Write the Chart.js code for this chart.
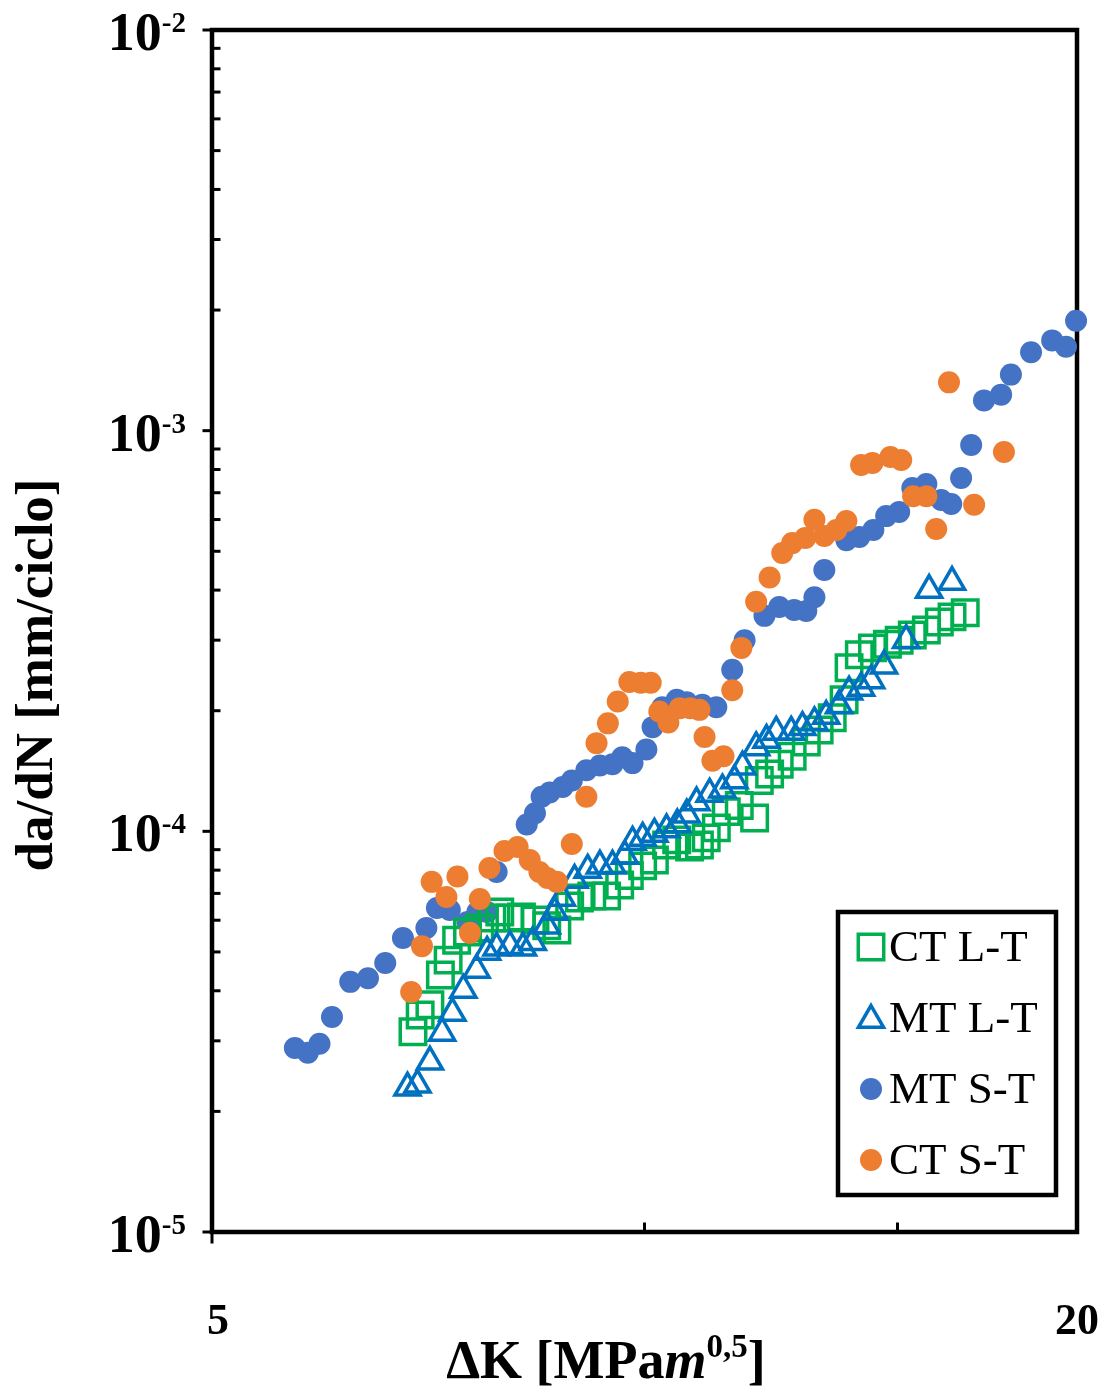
<!DOCTYPE html>
<html>
<head>
<meta charset="utf-8">
<script src="https://cdn.jsdelivr.net/npm/chart.js@4.4.1/dist/chart.umd.min.js"></script>
<style>
  html, body { margin: 0; padding: 0; background: #fff; }
  #wrap { width: 1104px; height: 1386px; position: relative; }
</style>
</head>
<body>
<div id="wrap"><canvas id="chart"></canvas></div>
<script>
// ΔK [MPa m^0.5] and da/dN [mm/ciclo] for each specimen / orientation
const ctLT_dK = [6.90, 6.98, 7.09, 7.21, 7.30, 7.40, 7.53, 7.68, 7.83, 7.93, 8.06, 8.21, 8.39, 8.55, 8.69, 8.87, 9.01, 9.19, 9.41, 9.61,
  9.76, 9.97, 10.16, 10.36, 10.53, 10.75, 10.92, 11.04, 11.22, 11.40, 11.64, 11.93, 12.02, 12.22, 12.41, 12.67, 12.96, 13.23, 13.51, 13.77,
  13.88, 14.11, 14.41, 14.76, 15.04, 15.36, 15.71, 16.04, 16.37, 16.72];
const ctLT_dadN = [3.16e-5, 3.48e-5, 3.69e-5, 4.38e-5, 4.77e-5, 5.35e-5, 5.61e-5, 5.74e-5, 6.08e-5, 6.29e-5, 6.08e-5, 6.11e-5, 6.01e-5, 5.81e-5, 5.67e-5,
  6.51e-5, 6.82e-5, 6.90e-5, 6.90e-5, 7.35e-5, 7.76e-5, 8.20e-5, 8.48e-5, 9.25e-5, 9.52e-5, 9.14e-5, 9.25e-5, 9.63e-5, 1.02e-4, 1.12e-4,
  1.16e-4, 1.08e-4, 1.34e-4, 1.39e-4, 1.47e-4, 1.54e-4, 1.67e-4, 1.79e-4, 1.92e-4, 2.13e-4, 2.56e-4, 2.76e-4, 2.87e-4, 2.93e-4, 3.00e-4,
  3.09e-4, 3.18e-4, 3.33e-4, 3.43e-4, 3.51e-4];

const mtLT_dK = [6.84, 6.95, 7.09, 7.23, 7.35, 7.48, 7.64, 7.77, 7.89, 8.06, 8.23, 8.36, 8.55, 8.66, 8.76, 8.94, 9.13, 9.31, 9.50, 9.69,
  9.81, 9.97, 10.16, 10.36, 10.54, 10.70, 10.87, 11.10, 11.33, 11.55, 11.70, 11.96, 12.16, 12.35, 12.65, 12.88, 13.13, 13.38, 13.66, 13.88,
  14.15, 14.38, 14.68, 15.21, 15.78, 16.37];
const mtLT_dadN = [2.29e-5, 2.33e-5, 2.66e-5, 3.14e-5, 3.52e-5, 4.02e-5, 4.51e-5, 5.00e-5, 5.12e-5, 5.17e-5, 5.12e-5, 5.29e-5, 5.81e-5, 6.29e-5, 6.82e-5,
  7.56e-5, 8.01e-5, 8.20e-5, 8.20e-5, 8.68e-5, 9.41e-5, 9.63e-5, 9.85e-5, 1.01e-4, 1.04e-4, 1.10e-4, 1.18e-4, 1.24e-4, 1.27e-4, 1.34e-4,
  1.45e-4, 1.62e-4, 1.69e-4, 1.77e-4, 1.77e-4, 1.82e-4, 1.87e-4, 1.94e-4, 2.06e-4, 2.23e-4, 2.28e-4, 2.38e-4, 2.59e-4, 3.00e-4, 4.00e-4,
  4.19e-4];

const mtST_dK = [5.71, 5.83, 5.94, 6.06, 6.24, 6.42, 6.60, 6.79, 7.05, 7.17, 7.32, 7.53, 7.65, 7.77, 7.89, 8.28, 8.39, 8.48, 8.59, 8.77,
  8.90, 9.11, 9.31, 9.50, 9.65, 9.81, 10.03, 10.13, 10.29, 10.53, 10.70, 10.97, 11.22, 11.51, 11.74, 12.12, 12.41, 12.71, 12.96, 13.13,
  13.34, 13.82, 14.11, 14.43, 14.73, 15.04, 15.36, 15.71, 16.09, 16.35, 16.61, 16.88, 17.23, 17.71, 17.99, 18.58, 19.22, 19.65, 19.97];
const mtST_dadN = [2.88e-5, 2.80e-5, 2.95e-5, 3.44e-5, 4.21e-5, 4.30e-5, 4.69e-5, 5.42e-5, 5.74e-5, 6.44e-5, 6.36e-5, 5.94e-5, 6.29e-5, 6.29e-5, 7.92e-5,
  1.04e-4, 1.11e-4, 1.22e-4, 1.25e-4, 1.29e-4, 1.34e-4, 1.42e-4, 1.46e-4, 1.47e-4, 1.53e-4, 1.48e-4, 1.60e-4, 1.82e-4, 2.04e-4, 2.13e-4,
  2.10e-4, 2.07e-4, 2.04e-4, 2.53e-4, 3.00e-4, 3.45e-4, 3.63e-4, 3.57e-4, 3.55e-4, 3.84e-4, 4.49e-4, 5.33e-4, 5.43e-4, 5.65e-4, 6.12e-4,
  6.27e-4, 7.19e-4, 7.36e-4, 6.71e-4, 6.56e-4, 7.62e-4, 9.21e-4, 1.19e-3, 1.23e-3, 1.38e-3, 1.57e-3, 1.68e-3, 1.62e-3, 1.88e-3];

const ctST_dK = [6.88, 7.00, 7.11, 7.28, 7.41, 7.56, 7.68, 7.80, 7.99, 8.16, 8.32, 8.45, 8.56, 8.69, 8.90, 9.11, 9.26, 9.43, 9.58, 9.76,
  9.94, 10.10, 10.24, 10.39, 10.58, 10.76, 10.92, 11.01, 11.15, 11.35, 11.51, 11.68, 11.96, 12.22, 12.47, 12.67, 12.94, 13.13, 13.34, 13.60,
  13.82, 14.15, 14.41, 14.83, 15.09, 15.38, 15.71, 15.96, 16.29, 16.96, 17.79];
const ctST_dadN = [3.97e-5, 5.17e-5, 7.48e-5, 6.86e-5, 7.71e-5, 5.58e-5, 6.78e-5, 8.10e-5, 8.93e-5, 9.14e-5, 8.48e-5, 7.92e-5, 7.65e-5, 7.48e-5, 9.30e-5,
  1.22e-4, 1.66e-4, 1.86e-4, 2.11e-4, 2.36e-4, 2.35e-4, 2.35e-4, 1.99e-4, 1.87e-4, 2.03e-4, 2.03e-4, 2.01e-4, 1.72e-4, 1.50e-4, 1.54e-4,
  2.25e-4, 2.87e-4, 3.74e-4, 4.30e-4, 4.95e-4, 5.24e-4, 5.40e-4, 5.99e-4, 5.46e-4, 5.65e-4, 5.95e-4, 8.21e-4, 8.31e-4, 8.60e-4, 8.45e-4,
  6.86e-4, 6.86e-4, 5.68e-4, 1.32e-3, 6.53e-4, 8.85e-4];

const seriesNames = ['CT L-T', 'MT L-T', 'MT S-T', 'CT S-T'];
const yDecades = [1e-5, 1e-4, 1e-3, 1e-2];
const xTickValues = [5, 20];
const xMinorValues = [10, 15];

const SERIF = '"Liberation Serif", "Times New Roman", serif';

function toPoints(xs, ys) {
  return xs.map((x, i) => ({ x: x, y: ys[i] }));
}

function markerSet(style, radius, fill, stroke, width, order) {
  return {
    pointStyle: style,
    pointRadius: radius,
    pointHoverRadius: radius,
    pointBackgroundColor: fill,
    pointBorderColor: stroke,
    pointBorderWidth: width,
    pointHoverBorderWidth: width,
    showLine: false,
    clip: false,
    order: order
  };
}

const datasets = [
  Object.assign({ label: seriesNames[0], data: toPoints(ctLT_dK, ctLT_dadN) }, markerSet('rect', 18, 'rgba(0,0,0,0)', '#00B050', 3.5, 2)),
  Object.assign({ label: seriesNames[1], data: toPoints(mtLT_dK, mtLT_dadN) }, markerSet('triangle', 14.5, 'rgba(0,0,0,0)', '#0070C0', 3.5, 1)),
  Object.assign({ label: seriesNames[2], data: toPoints(mtST_dK, mtST_dadN) }, markerSet('circle', 11, '#4472C4', '#4472C4', 0, 3)),
  Object.assign({ label: seriesNames[3], data: toPoints(ctST_dK, ctST_dadN) }, markerSet('circle', 11, '#ED7D31', '#ED7D31', 0, 0))
];

// frame, ticks (minor ones point inward) and the axis labels
const axisFrame = {
  id: 'axisFrame',
  beforeDatasetsDraw(chart) {
    const { ctx, chartArea: a, scales } = chart;
    const xs = scales.x, ys = scales.y;
    ctx.save();
    ctx.strokeStyle = '#000';
    ctx.lineCap = 'square';

    // y ticks
    ctx.lineWidth = 3;
    yDecades.forEach((d, i) => {
      const py = ys.getPixelForValue(d);
      ctx.beginPath();
      ctx.moveTo(a.left - 8, py);
      ctx.lineTo(a.left, py);
      ctx.stroke();
      if (i < yDecades.length - 1) {
        for (let m = 2; m <= 9; m++) {
          const my = ys.getPixelForValue(d * m);
          ctx.beginPath();
          ctx.moveTo(a.left, my);
          ctx.lineTo(a.left + 7, my);
          ctx.stroke();
        }
      }
    });
    // x ticks
    xMinorValues.forEach(v => {
      const px = xs.getPixelForValue(v);
      ctx.beginPath();
      ctx.moveTo(px, a.bottom);
      ctx.lineTo(px, a.bottom - 8);
      ctx.stroke();
    });
    ctx.beginPath();
    ctx.moveTo(a.left, a.bottom);
    ctx.lineTo(a.left, a.bottom + 10);
    ctx.stroke();

    // plot box
    ctx.lineWidth = 4.5;
    ctx.lineCap = 'butt';
    ctx.strokeRect(a.left, a.top, a.right - a.left, a.bottom - a.top);

    // y labels 10^n
    ctx.fillStyle = '#000';
    ctx.textBaseline = 'alphabetic';
    yDecades.forEach(d => {
      const py = ys.getPixelForValue(d);
      const sup = String(Math.round(Math.log10(d)));
      ctx.font = 'bold 29px ' + SERIF;
      const supW = ctx.measureText(sup).width;
      const right = 186;
      ctx.textAlign = 'right';
      ctx.fillText(sup, right, py + 2);
      ctx.font = 'bold 54px ' + SERIF;
      ctx.fillText('10', right - supW, py + 20);
    });

    // x labels
    ctx.font = 'bold 44px ' + SERIF;
    ctx.textAlign = 'center';
    xTickValues.forEach(v => {
      const px = xs.getPixelForValue(v);
      ctx.fillText(String(v), px + (v === 5 ? 6 : 0), 1334);
    });

    // x title: ΔK [MPa m^0,5] with italic m and raised exponent
    const parts = [
      { t: 'ΔK [MPa', f: 'bold 54px ' + SERIF, dy: 0 },
      { t: 'm', f: 'italic bold 54px ' + SERIF, dy: 0 },
      { t: '0,5', f: 'bold 33px ' + SERIF, dy: -21 },
      { t: ']', f: 'bold 54px ' + SERIF, dy: 0 }
    ];
    let total = 0;
    parts.forEach(p => { ctx.font = p.f; p.w = ctx.measureText(p.t).width; total += p.w; });
    let cx = 606 - total / 2;
    ctx.textAlign = 'left';
    parts.forEach(p => {
      ctx.font = p.f;
      ctx.fillText(p.t, cx, 1378 + p.dy);
      cx += p.w;
    });

    // y title
    ctx.translate(38, 675);
    ctx.rotate(-Math.PI / 2);
    ctx.font = 'bold 53px ' + SERIF;
    ctx.textAlign = 'center';
    ctx.textBaseline = 'middle';
    ctx.fillText('da/dN [mm/ciclo]', 0, 0);
    ctx.restore();
  }
};

function drawMarker(ctx, ds, x, y) {
  const r = ds.pointRadius;
  ctx.beginPath();
  if (ds.pointStyle === 'rect') {
    const h = r * Math.SQRT1_2;
    ctx.rect(x - h, y - h, 2 * h, 2 * h);
  } else if (ds.pointStyle === 'triangle') {
    for (let k = 0; k < 3; k++) {
      const ang = k * 2 * Math.PI / 3;
      const px = x + Math.sin(ang) * r, py = y - Math.cos(ang) * r;
      if (k === 0) ctx.moveTo(px, py); else ctx.lineTo(px, py);
    }
    ctx.closePath();
  } else {
    ctx.arc(x, y, r, 0, Math.PI * 2);
  }
  ctx.fillStyle = ds.pointBackgroundColor;
  ctx.fill();
  if (ds.pointBorderWidth > 0) {
    ctx.strokeStyle = ds.pointBorderColor;
    ctx.lineWidth = ds.pointBorderWidth;
    ctx.stroke();
  }
}

// boxed legend in the lower right corner
const legendBox = {
  id: 'legendBox',
  afterDatasetsDraw(chart) {
    const ctx = chart.ctx;
    const box = { x: 838, y: 912, w: 218, h: 283 };
    ctx.save();
    ctx.fillStyle = '#fff';
    ctx.fillRect(box.x, box.y, box.w, box.h);
    ctx.strokeStyle = '#000';
    ctx.lineWidth = 4.5;
    ctx.strokeRect(box.x, box.y, box.w, box.h);
    chart.data.datasets.forEach((ds, i) => {
      const cy = 947 + i * 71;
      drawMarker(ctx, ds, 871, cy + (ds.pointStyle === 'triangle' ? 2 : 0));
      ctx.fillStyle = '#000';
      ctx.font = '45px ' + SERIF;
      ctx.textAlign = 'left';
      ctx.textBaseline = 'middle';
      ctx.fillText(ds.label, 889, cy + 2);
    });
    ctx.restore();
  }
};

new Chart(document.getElementById('chart'), {
  type: 'scatter',
  data: { datasets: datasets },
  options: {
    responsive: true,
    maintainAspectRatio: false,
    animation: false,
    events: [],
    layout: { padding: { left: 0, top: 30, right: 27, bottom: 0 } },
    plugins: { legend: { display: false }, tooltip: { enabled: false } },
    scales: {
      x: {
        type: 'logarithmic', min: 5, max: 20,
        grid: { display: false }, border: { display: false },
        ticks: { display: false },
        afterFit: s => { s.height = 154; }
      },
      y: {
        type: 'logarithmic', min: 1e-5, max: 1e-2,
        grid: { display: false }, border: { display: false },
        ticks: { display: false },
        afterFit: s => { s.width = 212; }
      }
    }
  },
  plugins: [axisFrame, legendBox]
});
</script>
</body>
</html>
